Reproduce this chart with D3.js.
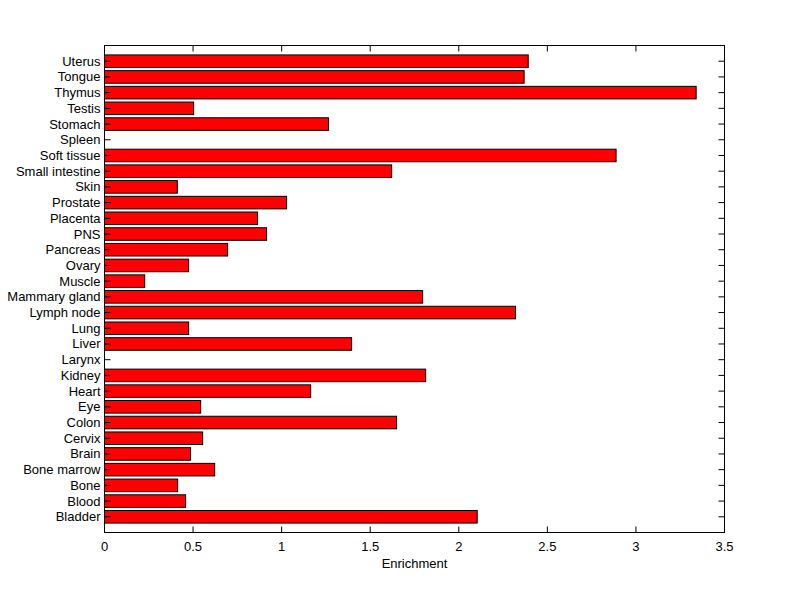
<!DOCTYPE html>
<html><head><meta charset="utf-8">
<script src="https://cdn.jsdelivr.net/npm/d3@7"></script>
<style>body{margin:0;background:#fff;} text{font-family:"Liberation Sans",Arial,sans-serif;}</style>
</head><body>
<svg id="c" width="800" height="599"></svg>
<script>
const categories = ["Bladder","Blood","Bone","Bone marrow","Brain","Cervix","Colon","Eye","Heart","Kidney","Larynx","Liver","Lung","Lymph node","Mammary gland","Muscle","Ovary","Pancreas","PNS","Placenta","Prostate","Skin","Small intestine","Soft tissue","Spleen","Stomach","Testis","Thymus","Tongue","Uterus"];
const values = [2.104,0.458,0.413,0.622,0.486,0.554,1.649,0.543,1.164,1.813,0,1.395,0.475,2.320,1.796,0.227,0.475,0.695,0.915,0.864,1.028,0.411,1.621,2.888,0,1.265,0.503,3.340,2.369,2.392];
const xTicks = [0,0.5,1,1.5,2,2.5,3,3.5];
const xLabel = "Enrichment";

const svg = d3.select("#c");
const L=104.5, R=724.5, T=45.5, B=532.5;
const x = d3.scaleLinear().domain([0,3.5]).range([L,R]);
const y = d3.scaleLinear().domain([0,31]).range([B,T]);
const barH = 0.8*(y(0)-y(1));
const fs = 13;

svg.append("rect").attr("x",0).attr("y",0).attr("width",800).attr("height",599).attr("fill","#fff");

svg.append("g").selectAll("rect").data(values).join("rect")
  .attr("x",x(0)).attr("y",(d,i)=>y(i+1)-barH/2)
  .attr("width",d=>x(d)-x(0)).attr("height",barH)
  .attr("fill","#ff0000").attr("stroke","#000").attr("stroke-width",1);

svg.append("rect").attr("x",L).attr("y",T).attr("width",R-L).attr("height",B-T)
  .attr("fill","none").attr("stroke","#000").attr("stroke-width",1);

const tk = 6;
const gx = svg.append("g");
xTicks.forEach(t=>{
  gx.append("line").attr("x1",x(t)).attr("x2",x(t)).attr("y1",B).attr("y2",B-tk).attr("stroke","#000");
  gx.append("line").attr("x1",x(t)).attr("x2",x(t)).attr("y1",T).attr("y2",T+tk).attr("stroke","#000");
  gx.append("text").attr("x",x(t)).attr("y",B+18).attr("text-anchor","middle").attr("font-size",fs).text(t);
});

const gy = svg.append("g");
categories.forEach((c,i)=>{
  const py = y(i+1);
  gy.append("line").attr("x1",L).attr("x2",L+tk).attr("y1",py).attr("y2",py).attr("stroke","#000");
  gy.append("line").attr("x1",R).attr("x2",R-tk).attr("y1",py).attr("y2",py).attr("stroke","#000");
  gy.append("text").attr("x",L-4).attr("y",py+4.5).attr("text-anchor","end").attr("font-size",fs).text(c);
});

svg.append("text").attr("x",(L+R)/2).attr("y",B+35).attr("text-anchor","middle").attr("font-size",fs).text(xLabel);
</script>
</body></html>
